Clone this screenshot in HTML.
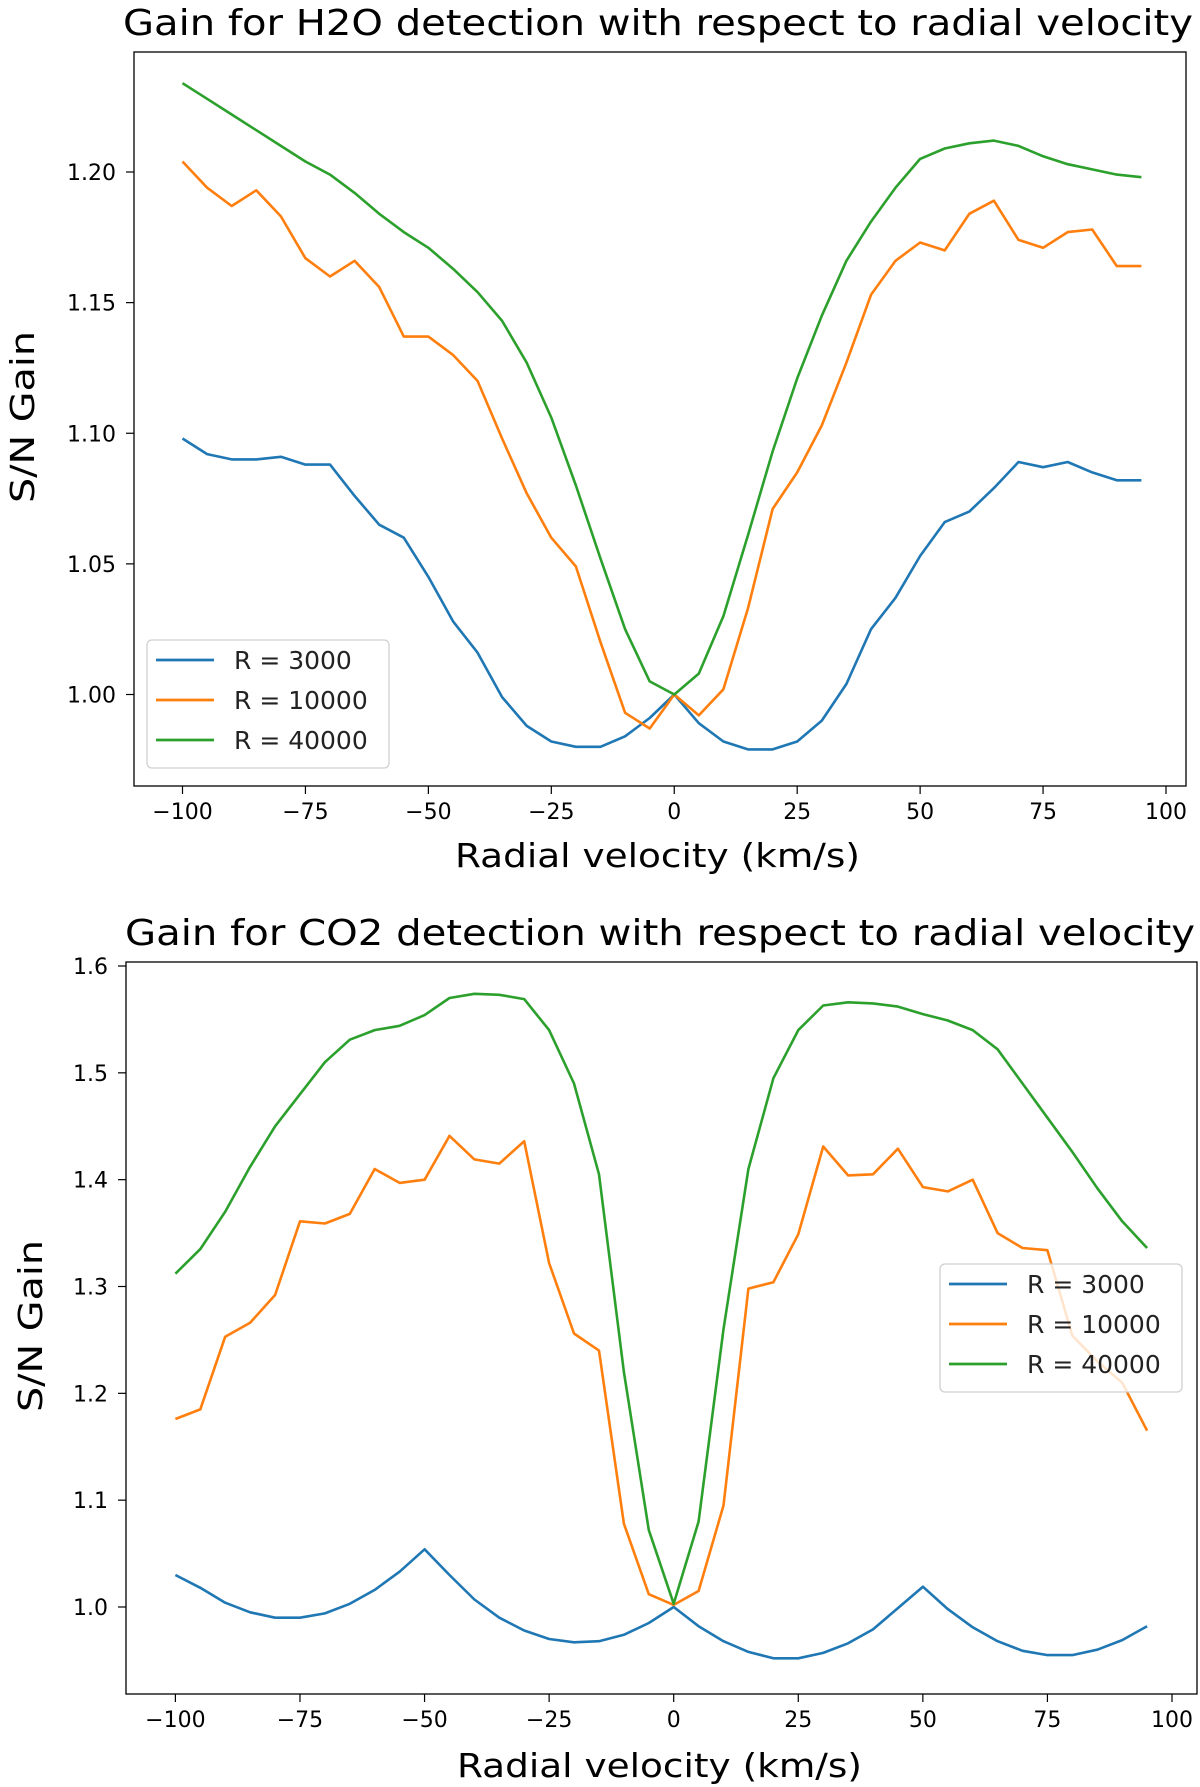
<!DOCTYPE html>
<html><head><meta charset="utf-8">
<style>
html,body{margin:0;padding:0;background:#fff;}
svg{display:block;font-family:"DejaVu Sans","Liberation Sans",sans-serif;}
</style></head>
<body>
<svg id="fig" width="1200" height="1787" viewBox="0 0 1200 1787" xmlns="http://www.w3.org/2000/svg"></svg>
<script>
const xs = [-100,-95,-90,-85,-80,-75,-70,-65,-60,-55,-50,-45,-40,-35,-30,-25,-20,-15,-10,-5,0,5,10,15,20,25,30,35,40,45,50,55,60,65,70,75,80,85,90,95];
const seriesNames = ["R = 3000","R = 10000","R = 40000"];
const h2o3000 = [1.098,1.092,1.090,1.090,1.091,1.088,1.088,1.076,1.065,1.060,1.045,1.028,1.016,0.999,0.988,0.982,0.980,0.980,0.984,0.991,1.000,0.989,0.982,0.979,0.979,0.982,0.990,1.004,1.025,1.037,1.053,1.066,1.070,1.079,1.089,1.087,1.089,1.085,1.082,1.082];
const h2o10000 = [1.204,1.194,1.187,1.193,1.183,1.167,1.160,1.166,1.156,1.137,1.137,1.130,1.120,1.098,1.077,1.060,1.049,1.020,0.993,0.987,1.000,0.992,1.002,1.033,1.071,1.085,1.103,1.127,1.153,1.166,1.173,1.170,1.184,1.189,1.174,1.171,1.177,1.178,1.164,1.164];
const h2o40000 = [1.234,1.228,1.222,1.216,1.210,1.204,1.199,1.192,1.184,1.177,1.171,1.163,1.154,1.143,1.127,1.106,1.080,1.052,1.025,1.005,1.000,1.008,1.030,1.061,1.093,1.121,1.145,1.166,1.181,1.194,1.205,1.209,1.211,1.212,1.210,1.206,1.203,1.201,1.199,1.198];
const co23000 = [1.030,1.018,1.004,0.995,0.990,0.990,0.994,1.003,1.016,1.033,1.054,1.030,1.007,0.990,0.978,0.970,0.967,0.968,0.974,0.985,1.000,0.982,0.968,0.958,0.952,0.952,0.957,0.966,0.979,0.999,1.019,0.998,0.981,0.968,0.959,0.955,0.955,0.960,0.969,0.982];
const co210000 = [1.176,1.185,1.253,1.266,1.292,1.361,1.359,1.368,1.410,1.397,1.400,1.441,1.419,1.415,1.436,1.322,1.256,1.240,1.078,1.012,1.002,1.015,1.095,1.298,1.304,1.349,1.431,1.404,1.405,1.429,1.393,1.389,1.400,1.350,1.336,1.334,1.254,1.230,1.210,1.165];
const co240000 = [1.312,1.335,1.370,1.412,1.450,1.480,1.510,1.531,1.540,1.544,1.554,1.570,1.574,1.573,1.569,1.540,1.490,1.405,1.220,1.072,1.003,1.080,1.260,1.410,1.495,1.540,1.563,1.566,1.565,1.562,1.555,1.549,1.540,1.522,1.490,1.458,1.426,1.392,1.361,1.336];
const xTicks = [-100,-75,-50,-25,0,25,50,75,100];
const xTickLabels = ["\u2212100","\u221275","\u221250","\u221225","0","25","50","75","100"];
const h2oYTicks = [1.00,1.05,1.10,1.15,1.20];
const h2oYTickLabels = ["1.00","1.05","1.10","1.15","1.20"];
const co2YTicks = [1.0,1.1,1.2,1.3,1.4,1.5,1.6];
const co2YTickLabels = ["1.0","1.1","1.2","1.3","1.4","1.5","1.6"];
const colors = ["#1f77b4","#ff7f0e","#2ca02c"];

const NS="http://www.w3.org/2000/svg";
const svg=document.getElementById('fig');
function mk(tag,attrs,parent){const e=document.createElementNS(NS,tag);for(const k in attrs)e.setAttribute(k,attrs[k]);(parent||svg).appendChild(e);return e;}

function panel(cfg){
  const g=mk('g',{});
  
  
  const X=v=>cfg.x0px+(v-(-100))*(cfg.x1px-cfg.x0px)/200;
  const Y=v=>cfg.y0px+(v-cfg.y0v)*(cfg.y1px-cfg.y0px)/(cfg.y1v-cfg.y0v);
  const t=mk('text',{x:cfg.titleX,y:cfg.titleY,'font-size':36,fill:'#000',textLength:cfg.titleW,lengthAdjust:'spacingAndGlyphs'},g);
  t.textContent=cfg.title;
  
  
  cfg.series.forEach((s,i)=>{
    const d=s.map((v,j)=>(j?'L':'M')+X(xs[j]).toFixed(1)+','+Y(v).toFixed(1)).join(' ');
    const p=mk('path',{d:d,fill:'none',stroke:colors[i],'stroke-width':2.6,'stroke-linejoin':'round'},g);
    
    
  });
  const ax=mk('rect',{x:cfg.L,y:cfg.T,width:cfg.R-cfg.L,height:cfg.B-cfg.T,fill:'none',stroke:'#000','stroke-width':1.3},g);
  
  
  xTicks.forEach((v,i)=>{
    mk('line',{x1:X(v),x2:X(v),y1:cfg.B,y2:cfg.B+8,stroke:'#000','stroke-width':1.2},g);
    const tl=mk('text',{x:X(v),y:cfg.B+33,'font-size':22,'text-anchor':'middle',fill:'#000'},g);
    tl.textContent=xTickLabels[i];
    
    
  });
  cfg.yTicks.forEach((v,i)=>{
    mk('line',{x1:cfg.L-8,x2:cfg.L,y1:Y(v),y2:Y(v),stroke:'#000','stroke-width':1.2},g);
    const tl=mk('text',{x:cfg.L-18,y:Y(v)+8,'font-size':22,'text-anchor':'end',fill:'#000'},g);
    tl.textContent=cfg.yTickLabels[i];
    
    
  });
  const xl=mk('text',{x:cfg.xlabX,y:cfg.xlabY,'font-size':33,fill:'#000',textLength:405,lengthAdjust:'spacingAndGlyphs'},g);
  xl.textContent='Radial velocity (km/s)';
  
  
  const yl=mk('text',{x:-86,y:0,'font-size':33,fill:'#000',textLength:172,lengthAdjust:'spacingAndGlyphs',transform:`translate(${cfg.ylabX},${cfg.ylabY}) rotate(-90)`},g);
  yl.textContent='S/N  Gain';
  
  
  const lg=mk('g',{},g);
  
  
  mk('rect',{x:cfg.lx,y:cfg.ly,width:242,height:128,rx:5,fill:'#fff','fill-opacity':0.8,stroke:'#d0d0d0','stroke-width':1.3},lg);
  seriesNames.forEach((n,i)=>{
    const yy=cfg.ly+20+i*40;
    mk('line',{x1:cfg.lx+9,x2:cfg.lx+67,y1:yy,y2:yy,stroke:colors[i],'stroke-width':2.8},lg);
    const lt=mk('text',{x:cfg.lx+87,y:yy+9,'font-size':25,fill:'#222'},lg);
    lt.textContent=n;
    
    
  });
}

panel({name:'h2o-chart',title:'Gain for H2O detection with respect to radial velocity',
  L:134,R:1186,T:52,B:786,x0px:182.5,x1px:1166,y0v:1.00,y0px:694.5,y1v:1.20,y1px:172,
  titleX:123,titleW:1070,titleY:35,xlabX:455,xlabY:867,ylabX:34,ylabY:417,yTicks:h2oYTicks,yTickLabels:h2oYTickLabels,
  series:[h2o3000,h2o10000,h2o40000],lx:147,ly:640});
panel({name:'co2-chart',title:'Gain for CO2 detection with respect to radial velocity',
  L:126,R:1197,T:962,B:1694,x0px:175.4,x1px:1172,y0v:1.0,y0px:1607,y1v:1.6,y1px:966,
  titleX:125,titleW:1070,titleY:945,xlabX:457,xlabY:1777,ylabX:42,ylabY:1326,yTicks:co2YTicks,yTickLabels:co2YTickLabels,
  series:[co23000,co210000,co240000],lx:940,ly:1264});
</script>
</body></html>
